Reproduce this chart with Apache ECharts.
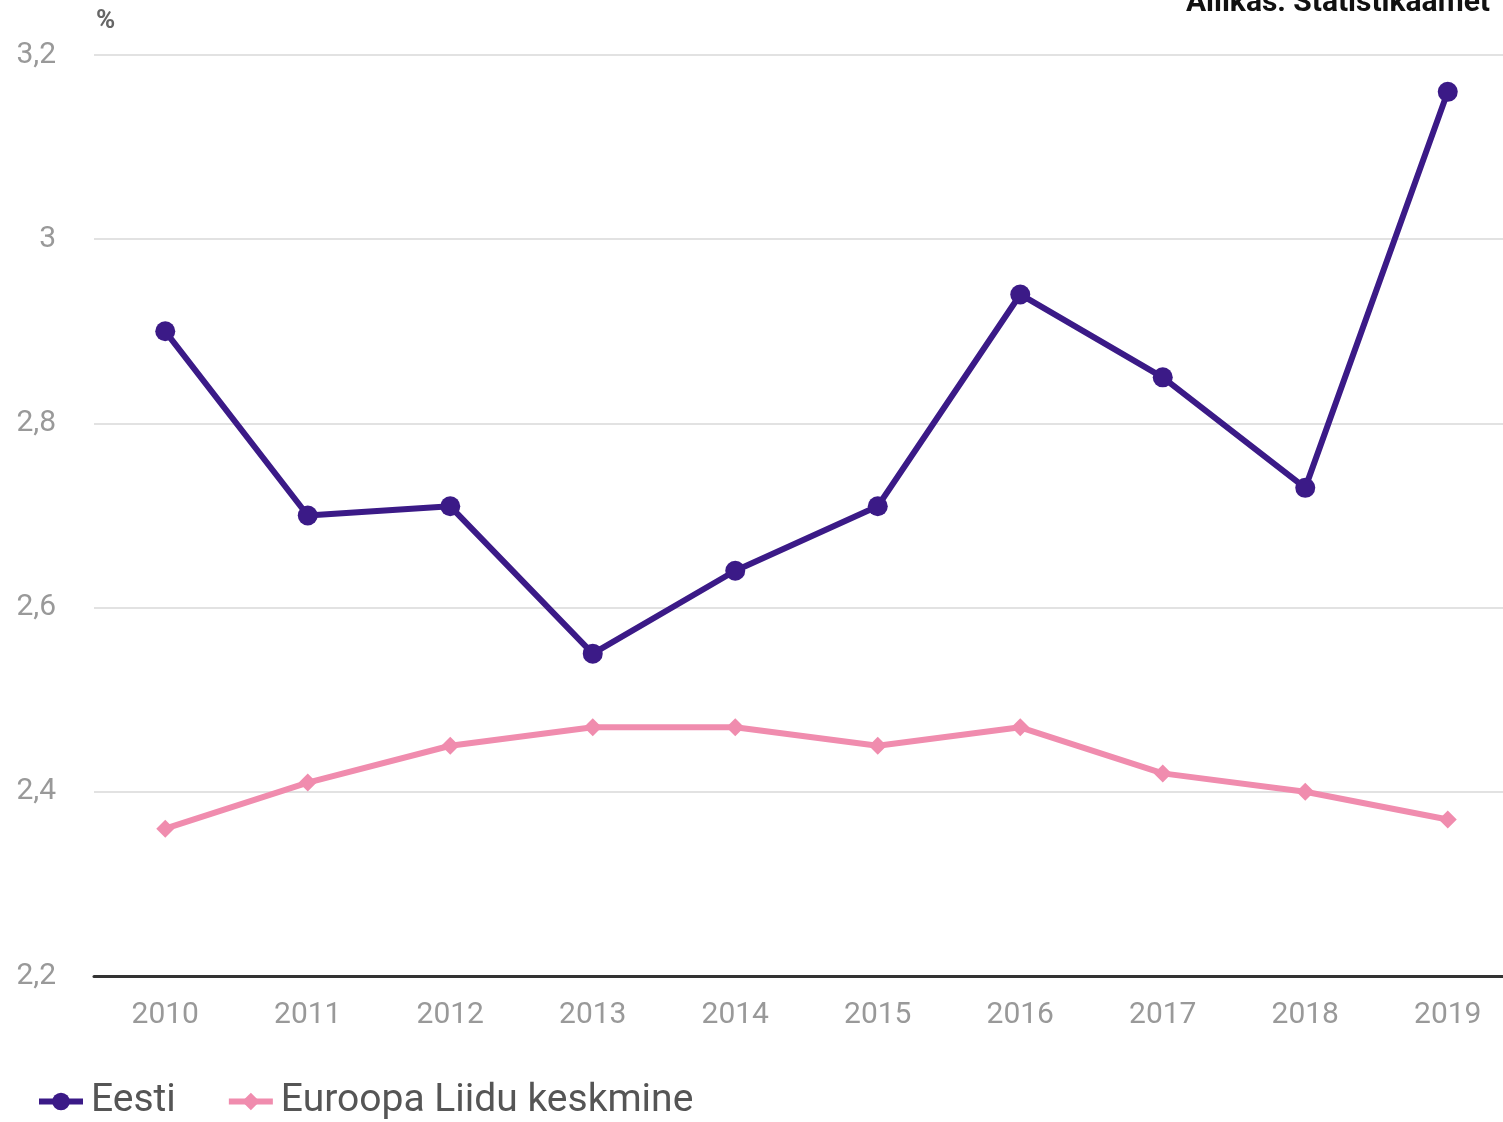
<!DOCTYPE html>
<html>
<head>
<meta charset="utf-8">
<script src="https://cdn.jsdelivr.net/npm/echarts@6/dist/echarts.min.js"></script>
<style>
html,body{margin:0;padding:0;background:#fff;}
#c{width:1503px;height:1122px;}
</style>
</head>
<body>
<div id="c"></div>
<script>
const years = ['2010','2011','2012','2013','2014','2015','2016','2017','2018','2019'];
const eesti = [2.90, 2.70, 2.71, 2.55, 2.64, 2.71, 2.94, 2.85, 2.73, 3.16];
const euroopa = [2.36, 2.41, 2.45, 2.47, 2.47, 2.45, 2.47, 2.42, 2.40, 2.37];
const yTicks = {min: 2.2, max: 3.2, interval: 0.2};

const chart = echarts.init(document.getElementById('c'));
chart.setOption({
  animation: false,
  textStyle: {fontFamily: 'Roboto'},
  title: {
    text: 'Allikas: Statistikaamet',
    right: 8, top: -17,
    textStyle: {fontSize: 30, fontWeight: 'bold', color: '#111', fontFamily: 'Roboto'}
  },
  graphic: [{
    type: 'text', left: 96, top: 8,
    style: {text: '%', fontSize: 26, fontWeight: 'bold', fill: '#666', fontFamily: 'Roboto'}
  }],
  grid: {left: 94, width: 1425, top: 55, bottom: 146, outerBoundsMode: 'none', containLabel: false},
  legend: {
    left: 31, bottom: -4,
    itemWidth: 44, itemHeight: 22, itemGap: 50,
    lineStyle: {width: 6},
    textStyle: {fontSize: 39, color: '#555', fontFamily: 'Roboto', padding: [0,0,0,3]},
    data: ['Eesti', 'Euroopa Liidu keskmine']
  },
  xAxis: {
    type: 'category', data: years, boundaryGap: true,
    axisLine: {lineStyle: {color: '#333', width: 3}},
    axisTick: {show: false},
    axisLabel: {fontSize: 30, color: '#999', margin: 24}
  },
  yAxis: {
    type: 'value', min: yTicks.min, max: yTicks.max, interval: yTicks.interval,
    axisLine: {show: false}, axisTick: {show: false},
    axisLabel: {fontSize: 30, color: '#999', margin: 38, padding: [8,0,0,0],
      formatter: v => (Math.round(v*10)/10).toString().replace('.', ',')},
    splitLine: {lineStyle: {color: '#e2e2e2', width: 2}}
  },
  series: [
    {
      name: 'Eesti', type: 'line', data: eesti,
      symbol: 'circle', symbolSize: 20,
      lineStyle: {color: '#3b1a87', width: 6},
      itemStyle: {color: '#3b1a87'}
    },
    {
      name: 'Euroopa Liidu keskmine', type: 'line', data: euroopa,
      symbol: 'diamond', symbolSize: 18,
      lineStyle: {color: '#f08cae', width: 6},
      itemStyle: {color: '#f08cae'}
    }
  ]
});
</script>
</body>
</html>
